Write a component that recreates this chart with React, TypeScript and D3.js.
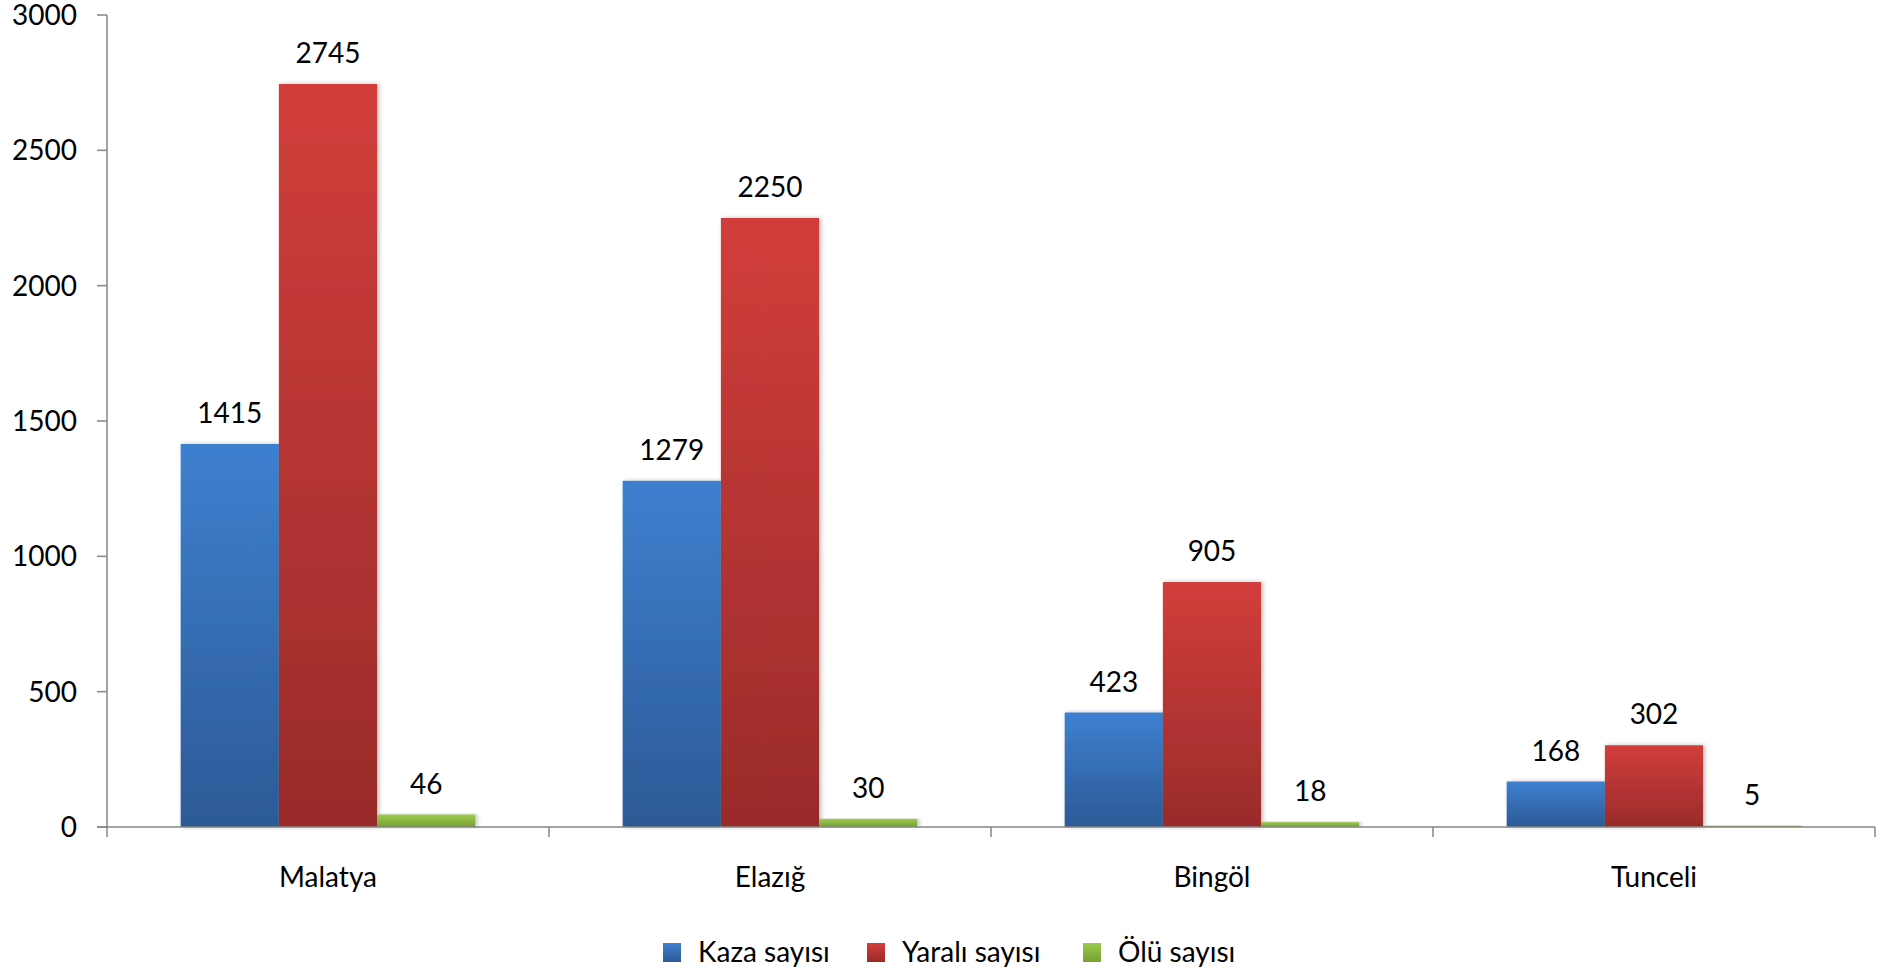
import React from "react";
import * as d3 from "d3";

const categories = ["Malatya", "Elazığ", "Bingöl", "Tunceli"];
const seriesNames = ["Kaza sayısı", "Yaralı sayısı", "Ölü sayısı"];
const kazaValues = [1415, 1279, 423, 168];
const yaraliValues = [2745, 2250, 905, 302];
const oluValues = [46, 30, 18, 5];
const yTicks = [0, 500, 1000, 1500, 2000, 2500, 3000];

const seriesValues = [kazaValues, yaraliValues, oluValues];
const gradients = [
  { id: "gBlue", top: "#3E80D0", bottom: "#2C5A96" },
  { id: "gRed", top: "#D23E3B", bottom: "#992B2A" },
  { id: "gGreen", top: "#9CCB4C", bottom: "#76A033" },
];

const W = 1885;
const H = 974;
const left = 107;
const right = 1875;
const top = 15;
const bottom = 827;
const FONT = "Lato, 'Open Sans', sans-serif";
const AXIS = "#868686";

export default function App() {
  const x = d3.scaleBand<string>().domain(categories).range([left, right]).padding(0);
  const bw = x.bandwidth();
  const barW = bw / 4.5;
  const xs = d3
    .scaleBand<string>()
    .domain(seriesNames)
    .range([barW * 0.75, bw - barW * 0.75])
    .padding(0);
  const y = d3.scaleLinear().domain([0, 3000]).range([bottom, top]);

  const legendX = [663, 867, 1083];

  return (
    <svg
      width={W}
      height={H}
      style={{ position: "absolute", left: 0, top: 0, background: "#fff" }}
      fontFamily={FONT}
    >
      <defs>
        {gradients.map((g) => (
          <linearGradient key={g.id} id={g.id} x1="0" y1="0" x2="0" y2="1">
            <stop offset="0%" stopColor={g.top} />
            <stop offset="100%" stopColor={g.bottom} />
          </linearGradient>
        ))}
        <filter id="shadow" x="-10%" y="-10%" width="130%" height="120%">
          <feDropShadow dx="2" dy="0" stdDeviation="2" floodColor="#000" floodOpacity="0.25" />
        </filter>
      </defs>

      {/* bars */}
      {categories.map((c, ci) => (
        <g key={c} transform={`translate(${x(c)},0)`}>
          {seriesNames.map((s, si) => {
            const v = seriesValues[si][ci];
            const bx = xs(s)!;
            return (
              <g key={s}>
                <rect
                  x={bx}
                  y={y(v)}
                  width={xs.bandwidth()}
                  height={y(0) - y(v)}
                  fill={`url(#${gradients[si].id})`}
                  filter="url(#shadow)"
                />
                <text
                  x={bx + xs.bandwidth() / 2}
                  y={y(v) - 21}
                  textAnchor="middle"
                  fontSize={28}
                  fill="#000"
                >
                  {v}
                </text>
              </g>
            );
          })}
        </g>
      ))}

      {/* y axis */}
      <line x1={left} x2={left} y1={top} y2={bottom + 10} stroke={AXIS} strokeWidth={1.5} />
      {yTicks.map((t) => (
        <g key={t}>
          <line x1={left - 10} x2={left} y1={y(t)} y2={y(t)} stroke={AXIS} strokeWidth={1.5} />
          <text
            x={left - 30}
            y={y(t) + 10}
            textAnchor="end"
            fontSize={28}
            fill="#000"
          >
            {t}
          </text>
        </g>
      ))}

      {/* x axis */}
      <line x1={left - 10} x2={right} y1={bottom} y2={bottom} stroke={AXIS} strokeWidth={1.5} />
      {categories.map((c) => (
        <line
          key={c + "t"}
          x1={x(c)! + bw}
          x2={x(c)! + bw}
          y1={bottom}
          y2={bottom + 10}
          stroke={AXIS}
          strokeWidth={1.5}
        />
      ))}
      {categories.map((c) => (
        <text key={c} x={x(c)! + bw / 2} y={887} textAnchor="middle" fontSize={28} fill="#000">
          {c}
        </text>
      ))}

      {/* legend */}
      {seriesNames.map((s, si) => (
        <g key={s} transform={`translate(${legendX[si]},0)`}>
          <rect x={0} y={943} width={18} height={19} fill={`url(#${gradients[si].id})`} />
          <text x={35} y={962} fontSize={28} fill="#000">
            {s}
          </text>
        </g>
      ))}
    </svg>
  );
}
